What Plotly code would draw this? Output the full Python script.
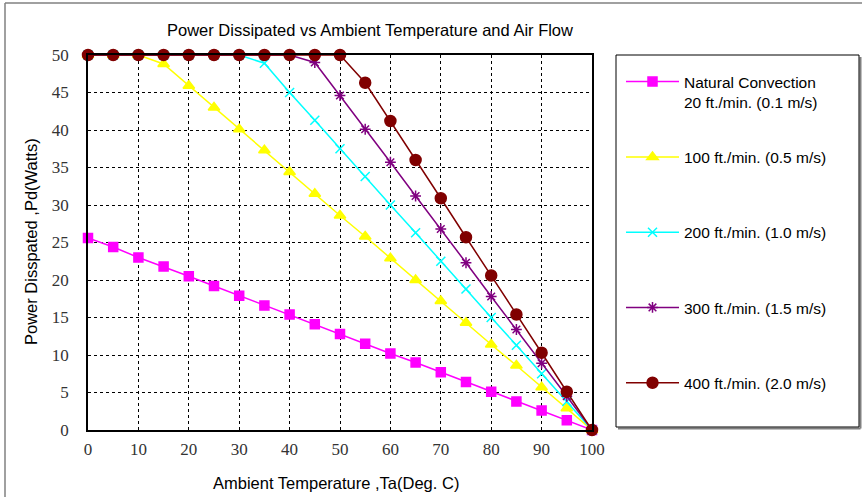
import plotly.graph_objects as go

W, H = 862, 497
L, R, T, B = 88, 592, 55, 430  # plot area in pixels

temps = [0, 5, 10, 15, 20, 25, 30, 35, 40, 45, 50, 55, 60, 65, 70, 75, 80, 85, 90, 95, 100]

natural = [25.6, 24.4, 23.0, 21.8, 20.5, 19.2, 17.9, 16.6, 15.4, 14.1, 12.8,
           11.5, 10.2, 9.0, 7.7, 6.4, 5.1, 3.8, 2.6, 1.3, 0]
ft100 = [50, 50, 50, 48.8, 45.9, 43.0, 40.1, 37.3, 34.4, 31.5, 28.6,
         25.8, 22.9, 20.0, 17.2, 14.3, 11.4, 8.6, 5.7, 2.9, 0]
ft200 = [50, 50, 50, 50, 50, 50, 50, 48.9, 45.0, 41.3, 37.5,
         33.8, 30.0, 26.3, 22.5, 18.8, 15.0, 11.3, 7.5, 3.8, 0]
ft300 = [50, 50, 50, 50, 50, 50, 50, 50, 50, 49.0, 44.6,
         40.1, 35.7, 31.2, 26.8, 22.3, 17.8, 13.4, 8.9, 4.5, 0]
ft400 = [50, 50, 50, 50, 50, 50, 50, 50, 50, 50, 50,
         46.3, 41.2, 36.0, 30.9, 25.7, 20.6, 15.4, 10.3, 5.1, 0]

names = ["Natural Convection<br>20 ft./min. (0.1 m/s)",
         "100 ft./min. (0.5 m/s)<br> ",
         "200 ft./min. (1.0 m/s)<br> ",
         "300 ft./min. (1.5 m/s)<br> ",
         "400 ft./min. (2.0 m/s)<br> "]
series = [natural, ft100, ft200, ft300, ft400]
colors = ["#FF00FF", "#FFFF00", "#00FFFF", "#800080", "#800000"]
symbols = ["square", "triangle-up", "x-thin-open", "asterisk-open", "circle"]
sizes = [9, 10, 9, 9, 11]

x_ticks = list(range(0, 101, 10))
y_ticks = list(range(0, 51, 5))

fig = go.Figure()
for i, (nm, ys, c, s, sz) in enumerate(zip(names, series, colors, symbols, sizes)):
    fig.add_trace(go.Scatter(
        x=temps, y=ys, name=nm, mode="lines+markers",
        line=dict(color=c, width=1.5),
        marker=dict(symbol=s, size=sz, color=c, line=dict(color=c, width=1.5)),
        cliponaxis=False, legendgroup=str(i)))

def px(x):
    return (x - L) / (R - L)

def py(y):
    return (B - y) / (B - T)

axis_common = dict(showline=True, linecolor="black", linewidth=1.5, mirror=True,
                   showgrid=True, gridcolor="black", gridwidth=1, griddash="dot",
                   ticks="", zeroline=False)

tick_font = dict(family="Liberation Serif", size=17, color="#333333")
fig.update_xaxes(range=[0, 100], tickvals=x_ticks, ticklabelstandoff=3,
                 tickfont=tick_font, **axis_common)
fig.update_yaxes(range=[0, 50], tickvals=y_ticks, ticklabelstandoff=14,
                 tickfont=tick_font, **axis_common)

shapes = [
    # outer frame
    dict(type="line", xref="paper", yref="paper", x0=px(5), x1=px(870), y0=py(3), y1=py(3),
         line=dict(color="#808080", width=1.5)),
    dict(type="line", xref="paper", yref="paper", x0=px(5), x1=px(5), y0=py(3), y1=py(510),
         line=dict(color="#808080", width=1.5)),
    # legend shadow
    dict(type="line", xref="paper", yref="paper", x0=px(860.5), x1=px(860.5), y0=py(57), y1=py(428.5),
         line=dict(color="#808080", width=2)),
    dict(type="line", xref="paper", yref="paper", x0=px(618), x1=px(860.5), y0=py(428.5), y1=py(428.5),
         line=dict(color="#808080", width=2)),
    # legend box
    dict(type="rect", xref="paper", yref="paper", x0=px(616), x1=px(859), y0=py(55), y1=py(427),
         line=dict(color="black", width=1), fillcolor="rgba(0,0,0,0)"),
]

sans = dict(family="Liberation Sans, Arial, sans-serif", size=16.5, color="black")
annotations = [
    dict(text="Power Dissipated vs Ambient Temperature and Air Flow", xref="paper", yref="paper",
         x=px(370), y=py(30), showarrow=False, font=sans, xanchor="center", yanchor="middle"),
    dict(text="Ambient Temperature ,Ta(Deg. C)", xref="paper", yref="paper",
         x=px(336), y=py(483), showarrow=False, font=sans, xanchor="center", yanchor="middle"),
    dict(text="Power Disspated ,Pd(Watts)", xref="paper", yref="paper", textangle=-90,
         x=px(31), y=py(242), showarrow=False, font=sans, xanchor="center", yanchor="middle"),
]

fig.update_layout(
    width=W, height=H,
    margin=dict(l=L, r=W - R, t=T, b=H - B),
    paper_bgcolor="white", plot_bgcolor="white",
    showlegend=True,
    legend=dict(x=px(621), y=py(65), xanchor="left", yanchor="top",
                bgcolor="rgba(0,0,0,0)", borderwidth=0,
                font=dict(family="Liberation Sans, Arial, sans-serif", size=15.5, color="black"),
                tracegroupgap=32, valign="top", itemwidth=53),
    shapes=shapes, annotations=annotations,
)

fig.write_html("out.html")
